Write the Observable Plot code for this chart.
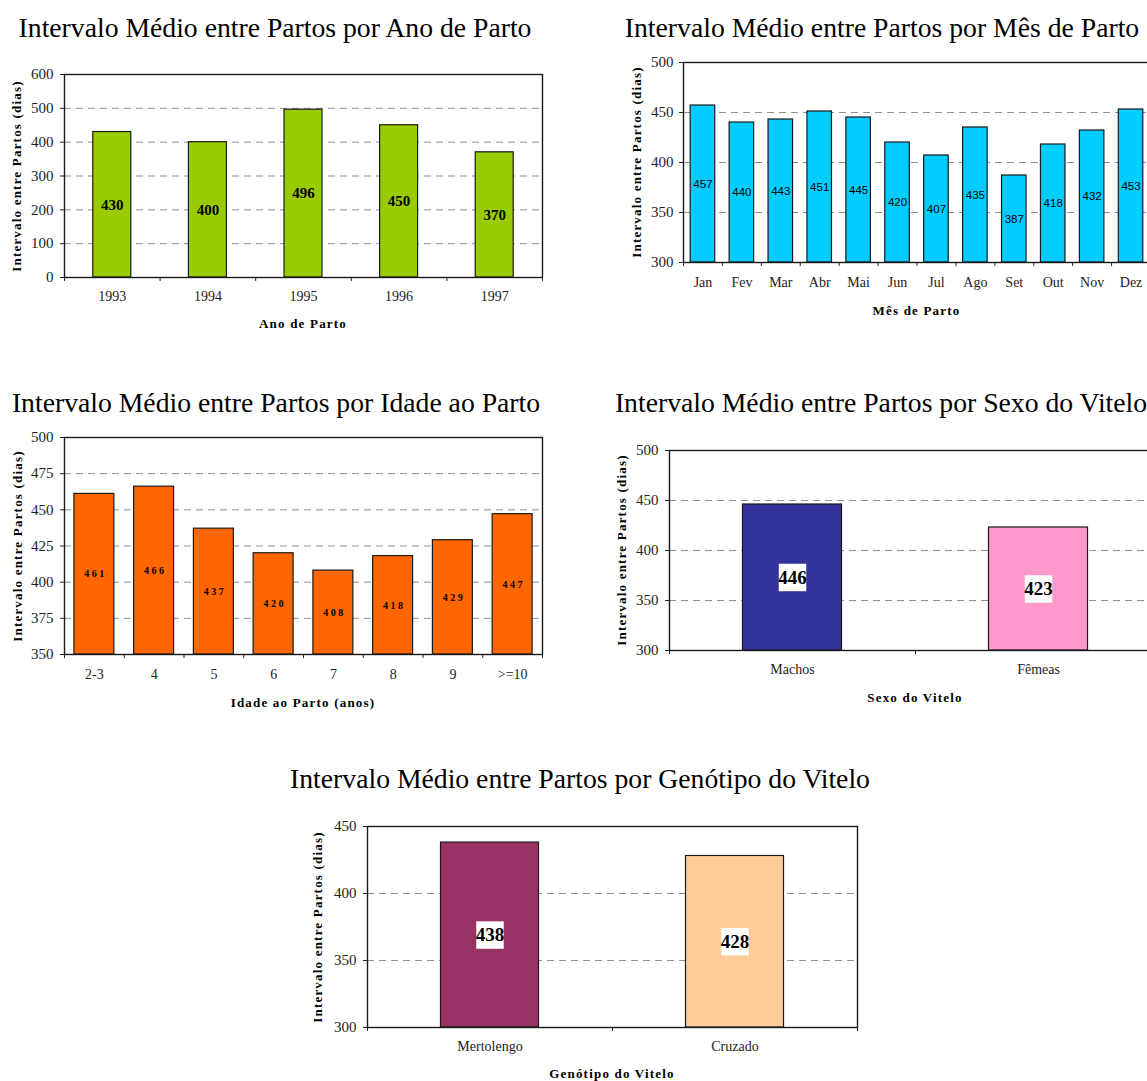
<!DOCTYPE html>
<html>
<head>
<meta charset="utf-8">
<script src="https://cdn.jsdelivr.net/npm/d3@7"></script>
<script src="https://cdn.jsdelivr.net/npm/@observablehq/plot@0.6"></script>
<style>
  html, body { margin: 0; padding: 0; background: #fff; }
  #page { position: relative; width: 1147px; height: 1081px; overflow: hidden; background: #fff; }
  .t { position: absolute; white-space: nowrap; line-height: 1; color: #000; }
  .ttl { font-family: "Liberation Serif", "Times New Roman", serif; font-size: 27.7px; }
  .ax { font-family: "Liberation Serif", "Times New Roman", serif; font-size: 13px; font-weight: bold; letter-spacing: 1.2px; }
  .pw { position: absolute; }
  .pw svg { max-width: none !important; background: transparent !important; }
</style>
</head>
<body>
<div id="page"></div>
<script>
// ---------- data ----------
const yearCats = ["1993", "1994", "1995", "1996", "1997"];
const yearVals = [430, 400, 496, 450, 370];
const yearTicks = [0, 100, 200, 300, 400, 500, 600];

const monthCats = ["Jan", "Fev", "Mar", "Abr", "Mai", "Jun", "Jul", "Ago", "Set", "Out", "Nov", "Dez"];
const monthVals = [457, 440, 443, 451, 445, 420, 407, 435, 387, 418, 432, 453];
const monthTicks = [300, 350, 400, 450, 500];

const ageCats = ["2-3", "4", "5", "6", "7", "8", "9", ">=10"];
const ageVals = [461, 466, 437, 420, 408, 418, 429, 447];
const ageTicks = [350, 375, 400, 425, 450, 475, 500];

const sexCats = ["Machos", "Fêmeas"];
const sexVals = [446, 423];
const sexTicks = [300, 350, 400, 450, 500];

const genoCats = ["Mertolengo", "Cruzado"];
const genoVals = [438, 428];
const genoTicks = [300, 350, 400, 450];

const yTitle = "Intervalo entre Partos (dias)";

// ---------- helpers ----------
const page = document.getElementById("page");
const SERIF = "'Liberation Serif', 'Times New Roman', serif";
const SANS = "'Liberation Sans', Arial, sans-serif";

function addText(text, cx, cy, cls, rotate) {
  const d = document.createElement("div");
  d.className = "t " + cls;
  d.textContent = text;
  d.style.left = cx + "px";
  d.style.top = cy + "px";
  d.style.transform = "translate(-50%, -50%)" + (rotate ? " rotate(" + rotate + "deg)" : "");
  page.appendChild(d);
}

function panel(cfg) {
  const n = cfg.cats.length;
  const data = cfg.cats.map((c, i) => ({
    c, i, v: cfg.vals[i],
    color: Array.isArray(cfg.colors) ? cfg.colors[i] : cfg.colors
  }));
  const ML = 60, MR = 10, MT = 10, MB = 50;
  const f = cfg.frame;
  const W = (f.x1 - f.x0) + ML + MR;
  const H = (f.y1 - f.y0) + MT + MB;
  const base = cfg.domain[0];
  const grid = cfg.ticks.filter(t => t > cfg.domain[0] && t < cfg.domain[1]);

  const marks = [
    Plot.ruleY(grid, {stroke: "#8f8f8f", strokeWidth: 1, strokeDasharray: "7,5"}),
    Plot.rect(data, {
      x1: d => d.i, x2: d => d.i + 1, y1: base, y2: "v",
      insetLeft: cfg.inset, insetRight: cfg.inset,
      fill: "color", stroke: "#1a1a1a", strokeWidth: 1.2
    }),
    Plot.frame({stroke: "#1a1a1a", strokeWidth: 1.4}),
    Plot.axisY({ticks: cfg.ticks, tickSize: 4, tickPadding: cfg.yPad, tickFormat: d => String(d),
      label: null, fontSize: 15, fontFamily: SERIF}),
    Plot.axisX({ticks: d3.range(n + 1), tickSize: 4, tickFormat: () => "", label: null}),
    Plot.axisX({ticks: d3.range(n).map(i => i + 0.5), tickSize: 0, tickPadding: cfg.xPad,
      tickFormat: t => cfg.cats[Math.floor(t)], label: null, fontSize: cfg.catSize, fontFamily: SERIF})
  ];
  if (cfg.box) {
    marks.push(Plot.dot(data, {x: d => d.i + 0.5, y: d => (base + d.v) / 2, symbol: "square",
      r: cfg.box, fill: "white", stroke: "none"}));
  }
  marks.push(Plot.text(data, {
    x: d => d.i + 0.5, y: d => (base + d.v) / 2, text: d => String(d.v),
    fontSize: cfg.lab.size, fontWeight: cfg.lab.weight, fontFamily: cfg.lab.family, fill: "#000",
    dx: cfg.lab.dx || 0
  }));

  const svg = Plot.plot({
    width: W, height: H,
    marginLeft: ML, marginRight: MR, marginTop: MT, marginBottom: MB,
    x: {type: "linear", domain: [0, n], axis: null},
    y: {type: "linear", domain: cfg.domain, axis: null},
    color: {type: "identity"},
    style: {fontFamily: SERIF, fontSize: "15px", color: "#222", background: "transparent"},
    marks
  });
  if (cfg.lab.spacing) {
    svg.querySelectorAll('g[aria-label="text"] text').forEach(t => {
      t.style.letterSpacing = cfg.lab.spacing + "px";
    });
  }
  const wrap = document.createElement("div");
  wrap.className = "pw";
  wrap.style.left = (f.x0 - ML) + "px";
  wrap.style.top = (f.y0 - MT) + "px";
  wrap.style.width = W + "px";
  wrap.style.height = H + "px";
  wrap.appendChild(svg);
  page.appendChild(wrap);

  addText(cfg.title, cfg.titleX, cfg.titleY, "ttl");
  addText(yTitle, cfg.yTitleX, (f.y0 + f.y1) / 2, "ax", -90);
  addText(cfg.xTitle, (f.x0 + f.x1) / 2, cfg.xTitleY, "ax");
}

// ---------- panels ----------
panel({
  title: "Intervalo Médio entre Partos por Ano de Parto", titleX: 275, titleY: 28,
  xTitle: "Ano de Parto", xTitleY: 323, yTitleX: 16,
  cats: yearCats, vals: yearVals, ticks: yearTicks, domain: [0, 600],
  frame: {x0: 64, x1: 542, y0: 74, y1: 277},
  colors: "#99CC00", inset: 28.8, xPad: 14, yPad: 7, catSize: 14,
  lab: {size: 15, weight: "bold", family: SERIF}
});

panel({
  title: "Intervalo Médio entre Partos por Mês de Parto", titleX: 882, titleY: 28,
  xTitle: "Mês de Parto", xTitleY: 310, yTitleX: 636,
  cats: monthCats, vals: monthVals, ticks: monthTicks, domain: [300, 500],
  frame: {x0: 683, x1: 1150, y0: 62, y1: 262},
  colors: "#00CCFF", inset: 7.2, xPad: 15, yPad: 6, catSize: 14,
  lab: {size: 11.5, weight: "normal", family: SANS}
});

panel({
  title: "Intervalo Médio entre Partos por Idade ao Parto", titleX: 276, titleY: 403,
  xTitle: "Idade ao Parto (anos)", xTitleY: 702, yTitleX: 17,
  cats: ageCats, vals: ageVals, ticks: ageTicks, domain: [350, 500],
  frame: {x0: 64, x1: 542, y0: 437, y1: 654},
  colors: "#FF6600", inset: 9.9, xPad: 15, yPad: 7, catSize: 14,
  lab: {size: 10, weight: "bold", family: SERIF, spacing: 2.5, dx: 1}
});

panel({
  title: "Intervalo Médio entre Partos por Sexo do Vitelo", titleX: 881, titleY: 403,
  xTitle: "Sexo do Vitelo", xTitleY: 697, yTitleX: 621,
  cats: sexCats, vals: sexVals, ticks: sexTicks, domain: [300, 500],
  frame: {x0: 669, x1: 1161, y0: 450, y1: 650},
  colors: ["#333399", "#FF99CC"], inset: 73.5, xPad: 14, yPad: 7, catSize: 14,
  box: 15.5, lab: {size: 19, weight: "bold", family: SERIF}
});

panel({
  title: "Intervalo Médio entre Partos por Genótipo do Vitelo", titleX: 580, titleY: 779,
  xTitle: "Genótipo do Vitelo", xTitleY: 1073, yTitleX: 317,
  cats: genoCats, vals: genoVals, ticks: genoTicks, domain: [300, 450],
  frame: {x0: 367, x1: 857, y0: 826, y1: 1027},
  colors: ["#993366", "#FFCC99"], inset: 73.5, xPad: 14, yPad: 7, catSize: 14,
  box: 15.5, lab: {size: 19, weight: "bold", family: SERIF}
});
</script>
</body>
</html>
